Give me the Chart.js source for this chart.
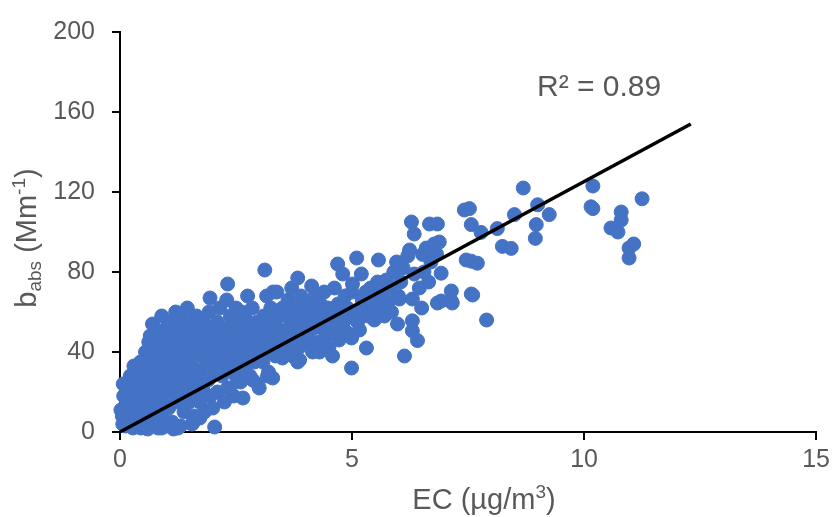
<!DOCTYPE html>
<html>
<head>
<meta charset="utf-8">
<script src="https://cdn.jsdelivr.net/npm/chart.js@4.4.0/dist/chart.umd.min.js"></script>
<style>
  body { margin: 0; background: #fff; }
  canvas { display: block; }
</style>
</head>
<body>
<canvas id="chart" width="835" height="517"></canvas>
<script>
// --- data: [EC, b_abs] pairs, grouped by EC range ---
const ec0to05 = [[0.05,8],[0.1,12],[0.08,18],[0.15,22],[0.2,5],[0.22,28],[0.25,15],[0.3,33],[0.3,10],[0.35,20],
  [0.4,3],[0.4,25],[0.45,14],[0.48,30],[0.5,8],[0.12,3],[0.18,10],[0.28,2],[0.33,6],[0.42,18],
  [0.02,11],[0.06,4],[0.07,24],[0.14,16],[0.24,21],[0.38,12],[0.44,35],[0.36,27],[0.26,9],[0.46,22],[0.45,2]];
const ec05to1 = [[0.55,2],[0.55,40],[0.58,18],[0.6,28],[0.62,45],[0.65,10],[0.65,48],[0.68,33],[0.7,54],[0.7,22],
  [0.72,5],[0.75,38],[0.78,15],[0.8,42],[0.8,28],[0.82,2],[0.85,50],[0.85,20],[0.88,35],[0.9,58],
  [0.9,8],[0.92,25],[0.95,44],[0.95,14],[0.98,32],[1.0,3],[1.0,52],[0.6,36],[0.75,30],[0.88,12],
  [0.52,25],[0.67,41],[0.73,48],[0.83,37],[0.93,40],[0.57,32],[0.63,15],[0.77,24],[0.86,44],[0.97,20],
  [0.6,1.5],[0.9,2]];
const ec1to15 = [[1.02,38],[1.05,12],[1.05,45],[1.08,28],[1.1,55],[1.1,20],[1.12,5],[1.15,35],[1.18,50],[1.2,25],
  [1.2,60],[1.22,15],[1.25,42],[1.25,2],[1.28,32],[1.3,48],[1.3,18],[1.32,58],[1.35,38],[1.38,10],
  [1.4,45],[1.4,28],[1.42,22],[1.45,52],[1.45,62],[1.48,35],[1.5,15],[1.5,42],[1.12,40],[1.18,30],
  [1.27,52],[1.35,25],[1.43,40],[1.08,48],[1.22,36],[1.37,47],[1.15,1.5],[1.3,3]];
const ec15to2 = [[1.52,25],[1.55,48],[1.55,55],[1.58,32],[1.6,8],[1.6,40],[1.62,20],[1.65,58],[1.68,45],[1.7,30],
  [1.72,15],[1.75,50],[1.75,38],[1.78,22],[1.8,55],[1.8,42],[1.82,10],[1.85,33],[1.88,48],[1.9,26],
  [1.92,60],[1.95,44],[1.95,18],[1.98,36],[2.0,52],[2.0,12],[1.65,28],[1.73,42],[1.85,40],[1.58,52],
  [1.9,35],[1.94,67],[1.55,4],[1.72,7],[1.57,4.5]];
const ec2to25 = [[2.04,2.5],[2.05,30],[2.05,45],[2.1,55],[2.1,20],[2.12,38],[2.15,62],[2.18,48],[2.2,28],[2.22,42],
  [2.25,15],[2.25,52],[2.28,35],[2.3,66],[2.32,74],[2.32,22],[2.35,45],[2.38,58],[2.4,32],[2.42,48],
  [2.45,18],[2.45,40],[2.48,55],[2.5,28],[2.5,62],[2.15,33],[2.28,50],[2.4,38],[2.08,40],[2.36,52],[2.37,22]];
const ec25to3 = [[2.52,45],[2.55,35],[2.58,52],[2.6,25],[2.62,60],[2.65,17],[2.65,42],[2.68,48],[2.7,32],[2.72,56],
  [2.75,68],[2.75,38],[2.78,45],[2.8,28],[2.82,52],[2.85,62],[2.88,40],[2.9,35],[2.92,48],[2.95,55],
  [2.97,24],[3.0,42],[3.0,22],[2.6,38],[2.85,46],[2.86,26]];
const ec3to4 = [[3.05,50],[3.08,35],[3.1,58],[3.12,81],[3.15,45],[3.16,68],[3.18,28],[3.2,52],[3.22,40],[3.25,62],
  [3.28,48],[3.29,27],[3.3,70],[3.32,55],[3.35,38],[3.38,70],[3.4,45],[3.42,58],[3.45,50],[3.48,42],
  [3.5,37],[3.5,62],[3.2,30],[3.4,52],
  [3.55,48],[3.58,58],[3.6,42],[3.62,66],[3.65,52],[3.66,46],[3.7,72],[3.72,38],[3.75,56],[3.78,62],
  [3.8,48],[3.83,35],[3.83,77],[3.87,36],[3.88,52],[3.9,68],[3.92,44],[3.95,58],[4.0,50],[4.0,64],
  [3.68,60],[3.85,42]];
const ec4to5 = [[4.05,55],[4.08,46],[4.1,62],[4.13,73],[4.15,40],[4.18,52],[4.2,68],[4.25,58],[4.28,45],[4.3,40],
  [4.32,64],[4.35,52],[4.4,70],[4.42,56],[4.45,48],[4.48,62],[4.5,42],
  [4.55,58],[4.58,38],[4.62,72],[4.65,52],[4.69,84],[4.7,64],[4.72,46],[4.75,60],[4.8,79],
  [4.82,55],[4.85,68],[4.88,50],[4.9,62],[4.95,58],[4.99,47],[4.99,32],[5.0,70]];
const ec5to6 = [[5.01,74],[5.05,60],[5.1,87],[5.12,55],[5.16,51],[5.2,79],[5.22,66],[5.25,62],[5.3,70],[5.31,42],
  [5.35,58],[5.4,72],[5.45,64],[5.48,56],[5.5,68],
  [5.55,75],[5.57,86],[5.6,62],[5.65,70],[5.7,58],[5.74,76],[5.78,65],[5.82,72],[5.85,60],[5.9,80],
  [5.96,85],[5.98,54],[6.0,68]];
const ec6to7 = [[6.02,66.5],[6.05,75],[6.1,82],[6.13,38],[6.2,88],[6.24,91],[6.28,105],[6.3,55.6],[6.3,50.6],[6.3,66.5],
  [6.34,79],[6.34,99],[6.41,45.7],[6.45,72],[6.52,88.8],[6.55,80],[6.6,92],[6.67,104],[6.7,85],[6.77,94],
  [6.82,89],[6.84,104],[6.84,64.5],[6.88,95],[6.92,79.4],[6.92,65.5],[6.5,62],[6.65,75]];
const ec7up = [[7.14,70.5],[7.14,65.5],[7.16,64.5],[7.42,111],[7.46,86],[7.53,111.7],[7.57,103.7],[7.57,69],[7.57,85.4],[7.6,68.5],
  [7.7,84.4],[7.78,99.8],[7.9,56],
  [8.13,101.7],[8.24,92.8],[8.43,91.8],[8.5,108.7],[8.69,122],[8.95,96.8],[8.97,103.7],[9.0,113.6],[9.25,108.7],
  [10.15,112.6],[10.19,123],[10.19,111.7],[10.58,102],[10.73,100],[10.8,110],[10.8,106],[10.97,92],
  [10.97,87],[11.07,94],[11.25,116.6]];

// linear fit line (ends)
const trendEC = [0, 12.3];
const trendBabs = [0, 154];
const rSquaredText = 'R² = 0.89';

const xTicks = [0, 5, 10, 15];
const yTicks = [0, 40, 80, 120, 160, 200];

const FONT = "'Liberation Sans', Arial, sans-serif";
const GREY = '#595959';

const allPoints = [].concat(ec0to05, ec05to1, ec1to15, ec15to2, ec2to25, ec25to3, ec3to4, ec4to5, ec5to6, ec6to7, ec7up)
  .map(p => ({ x: p[0], y: p[1] }));
const trendPoints = trendEC.map((x, i) => ({ x: x, y: trendBabs[i] }));

// draws rich text (sub/superscript) segments, left to right from x
function drawSegments(ctx, segs, x, y) {
  segs.forEach(s => {
    ctx.font = s.size + 'px ' + FONT;
    ctx.fillText(s.t, x, y + (s.dy || 0));
    x += ctx.measureText(s.t).width;
  });
}
function segWidth(ctx, segs) {
  let w = 0;
  segs.forEach(s => { ctx.font = s.size + 'px ' + FONT; w += ctx.measureText(s.t).width; });
  return w;
}

const labelsPlugin = {
  id: 'labels',
  afterDraw(chart) {
    const ctx = chart.ctx;
    const area = chart.chartArea;
    ctx.save();
    ctx.fillStyle = GREY;
    ctx.textBaseline = 'alphabetic';
    ctx.textAlign = 'left';

    // y title: b_abs (Mm^-1)
    const ySegs = [
      { t: 'b', size: 29 }, { t: 'abs', size: 19, dy: 5 }, { t: ' (Mm', size: 29 },
      { t: '-1', size: 19, dy: -11 }, { t: ')', size: 29 }
    ];
    ctx.save();
    ctx.translate(36, (area.top + area.bottom) / 2 + 6);
    ctx.rotate(-Math.PI / 2);
    drawSegments(ctx, ySegs, -segWidth(ctx, ySegs) / 2, 0);
    ctx.restore();

    // x title: EC (µg/m3)
    const xSegs = [{ t: 'EC (µg/m', size: 29 }, { t: '3', size: 19, dy: -11 }, { t: ')', size: 29 }];
    drawSegments(ctx, xSegs, 484 - segWidth(ctx, xSegs) / 2, 509);

    // R² annotation
    ctx.font = '30px ' + FONT;
    ctx.fillText(rSquaredText, 537, 96);
    ctx.restore();
  }
};

const axisStyle = {
  grid: { drawOnChartArea: false, drawTicks: true, tickLength: 8, color: '#000', lineWidth: 2 },
  border: { color: '#000', width: 2 }
};

new Chart(document.getElementById('chart'), {
  type: 'scatter',
  data: {
    datasets: [
      { data: trendPoints, showLine: true, borderColor: '#000', borderWidth: 3.5, pointRadius: 0, order: 0 },
      { data: allPoints, backgroundColor: '#4472C4', borderColor: '#4472C4', borderWidth: 1, pointRadius: 7, clip: false, order: 1 }
    ]
  },
  options: {
    responsive: false,
    animation: false,
    events: [],
    layout: { padding: { top: 29, right: 17, left: 0, bottom: 0 } },
    plugins: { legend: { display: false }, tooltip: { enabled: false } },
    scales: {
      x: {
        type: 'linear', min: xTicks[0], max: xTicks[xTicks.length - 1],
        afterBuildTicks: s => { s.ticks = xTicks.map(v => ({ value: v })); },
        afterFit: s => { s.height = 85; },
        ticks: { color: GREY, font: { size: 25, family: FONT }, padding: 5, maxRotation: 0 },
        ...axisStyle
      },
      y: {
        type: 'linear', min: yTicks[0], max: yTicks[yTicks.length - 1],
        afterBuildTicks: s => { s.ticks = yTicks.map(v => ({ value: v })); },
        afterFit: s => { s.width = 120; },
        ticks: { color: GREY, font: { size: 25, family: FONT }, padding: 17 },
        ...axisStyle
      }
    }
  },
  plugins: [labelsPlugin]
});
</script>
</body>
</html>
